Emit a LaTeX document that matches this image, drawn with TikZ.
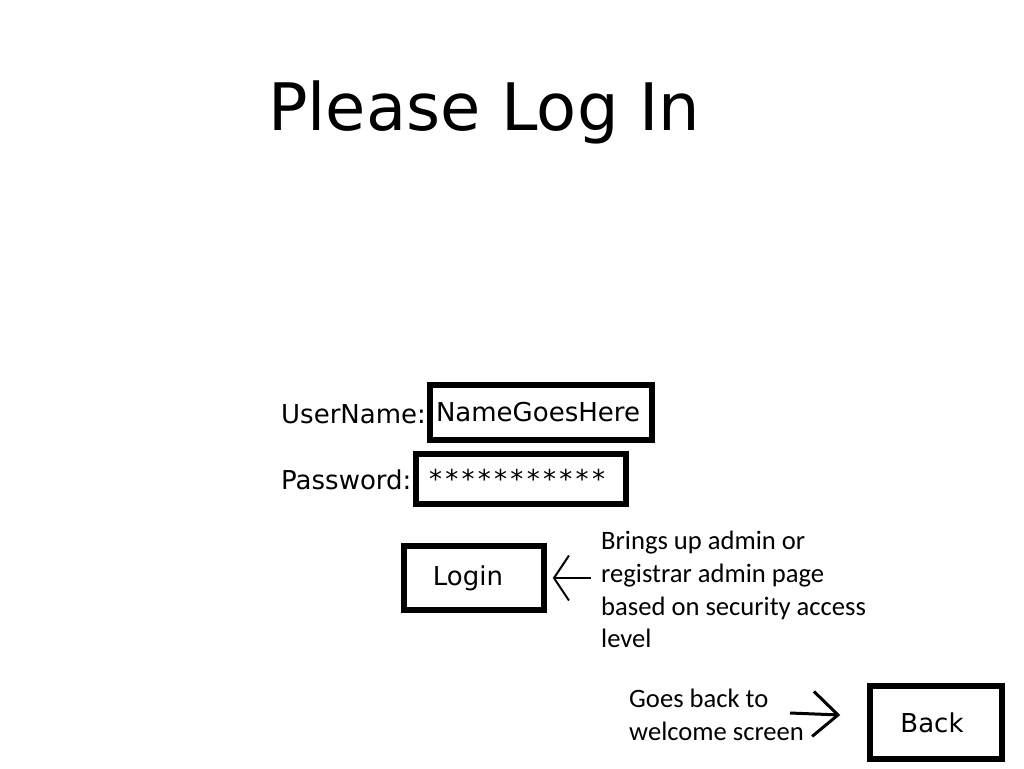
\documentclass[tikz,border=0pt]{standalone}
\usepackage{fontspec}
\setmainfont{DejaVu Sans}
\newfontfamily\notefont{Carlito}
\usetikzlibrary{arrows.meta}

\begin{document}
\begin{tikzpicture}[x=1pt,y=-1pt,
    field/.style={draw,line width=5.5pt,inner sep=0pt,font=\fontsize{26}{30}\selectfont},
    label/.style={inner sep=0pt,anchor=base west,font=\fontsize{26}{30}\selectfont},
    note/.style={inner sep=0pt,anchor=north west,align=left,font=\notefont\fontsize{26.6}{32.7}\selectfont}]
        \useasboundingbox (0,0) rectangle (1024,768);
        \node[inner sep=0pt,anchor=base west,font=\fontsize{65.5}{80}\selectfont] (title) at (268,130){Please Log In};
        \node[label] (userlabel) at (281,423){UserName:};
        \node[field,minimum width=222pt,minimum height=55pt] (username) at (541,412.5){NameGoesHere\hspace*{6pt}};
        \node[label] (passlabel) at (281,489){Password:};
        \node[field,minimum width=210pt,minimum height=50pt] (password) at (521,479)
        {\foreach \i in {1,...,11}{\makebox[16.3pt]{*}}\hspace*{8pt}};
        \node[field,minimum width=140pt,minimum height=64pt] (login) at (474,578){Login\hspace*{12pt}};
        \node[note] (loginnote) at (601,531){Brings up admin or\\registrar admin page\\based on security access\\level};
        \node[field,minimum width=132pt,minimum height=73pt] (back) at (936,722.5){Back\hspace*{8pt}};
        \node[note] (backnote) at (629,689){Goes back to\\welcome screen};
        \coordinate (backtail) at (790,713);
        \draw[line width=2pt,-{Straight Barb[length=15pt,width=45pt,line width=2pt]}]
        ([xshift=-10pt]loginnote.west |- login.east)--([xshift=6pt]login.east);
        \draw[line width=3pt,-{Straight Barb[length=25pt,width=45pt,line width=3pt]}]
        (backtail)--([xshift=-27pt,yshift=7.5pt]back.west);
    \end{tikzpicture}
\end{document}
